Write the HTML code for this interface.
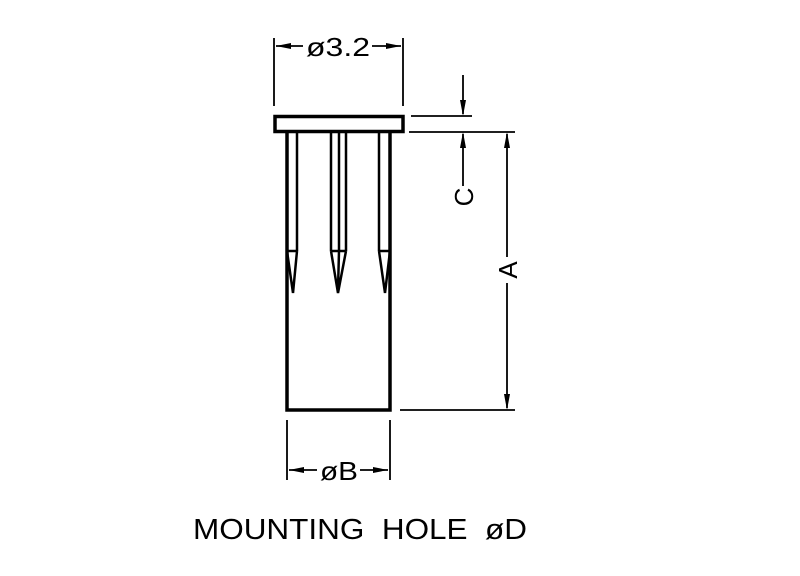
<!DOCTYPE html>
<html><head><style>html,body{margin:0;padding:0;background:#fff;}svg{display:block}</style></head>
<body>
<svg width="800" height="576" viewBox="0 0 800 576" xmlns="http://www.w3.org/2000/svg" font-family="Liberation Sans, sans-serif">
<g stroke="#000" fill="none">
<rect x="275" y="116.5" width="128" height="15" stroke-width="3.5"/>
<path d="M287 132 V410 H390 V132" stroke-width="3.5"/>
<g stroke-width="2.5">
<line x1="297" y1="132" x2="297" y2="251"/>
<line x1="331" y1="132" x2="331" y2="251"/>
<line x1="346" y1="132" x2="346" y2="251"/>
<line x1="339" y1="132" x2="339" y2="251"/>
<line x1="379" y1="132" x2="379" y2="251"/>
<line x1="287" y1="251" x2="297" y2="251"/>
<line x1="331" y1="251" x2="346" y2="251"/>
<line x1="379" y1="251" x2="390" y2="251"/>
<path d="M287 251 L293 293 L297 251"/>
<path d="M331 251 L338 293 L346 251 M339 251 L338 290"/>
<path d="M379 251 L385 293 L390 251"/>
</g>
<g stroke-width="1.8">
<line x1="274" y1="38" x2="274" y2="106"/>
<line x1="403" y1="38" x2="403" y2="106"/>
<line x1="276" y1="46" x2="303" y2="46"/>
<line x1="372" y1="46" x2="401" y2="46"/>
<line x1="411" y1="116" x2="472" y2="116"/>
<line x1="409" y1="132" x2="515" y2="132"/>
<line x1="463" y1="75" x2="463" y2="114"/>
<line x1="463" y1="134" x2="463" y2="186"/>
<line x1="507" y1="134" x2="507" y2="257"/>
<line x1="507" y1="283" x2="507" y2="408"/>
<line x1="400" y1="410" x2="515" y2="410"/>
<line x1="287" y1="420" x2="287" y2="480"/>
<line x1="390" y1="420" x2="390" y2="480"/>
<line x1="289" y1="470" x2="317" y2="470"/>
<line x1="360" y1="470" x2="388" y2="470"/>
</g>
</g>
<g fill="#000">
<polygon points="276,46 291,43 291,49"/>
<polygon points="401,46 386,43 386,49"/>
<polygon points="463,116 460,100 466,100"/>
<polygon points="463,132 460,148 466,148"/>
<polygon points="507,132 504,148 510,148"/>
<polygon points="507,410 504,394 510,394"/>
<polygon points="289,470 304,467 304,473"/>
<polygon points="388,470 373,467 373,473"/>
</g>
<g font-size="26" fill="#000">
<text x="338" y="56" text-anchor="middle" textLength="64" lengthAdjust="spacingAndGlyphs">ø3.2</text>
<text x="339" y="480" text-anchor="middle" textLength="38" lengthAdjust="spacingAndGlyphs">øB</text>
<text transform="translate(473,197) rotate(-90)" text-anchor="middle">C</text>
<text transform="translate(517,270) rotate(-90)" text-anchor="middle">A</text>
<text x="193" y="539" font-size="29" style="white-space:pre" xml:space="preserve" textLength="334" lengthAdjust="spacingAndGlyphs">MOUNTING  HOLE  øD</text>
</g>
</svg>
</body></html>
